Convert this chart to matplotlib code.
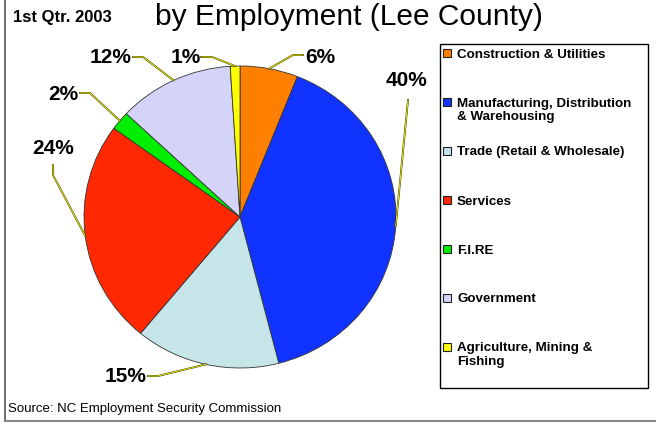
import numpy as np
import matplotlib.pyplot as plt
import matplotlib.patheffects as pe
from matplotlib.patches import Rectangle

plt.rcParams['font.family'] = ['Liberation Sans', 'DejaVu Sans']

categories = ['Construction & Utilities',
              'Manufacturing, Distribution\n& Warehousing',
              'Trade (Retail & Wholesale)',
              'Services',
              'F.I.RE',
              'Government',
              'Agriculture, Mining &\nFishing']
shares = [6, 40, 15, 24, 2, 12, 1]
colors = ['#FF7F00', '#1033FF', '#C5E5E8', '#FF2800', '#00EE00', '#D4D4F8', '#FFFF00']
pct_labels = [f'{v}%' for v in shares]

# layout in pixels: label centre, leader elbow, leader end
label_xy = [(320, 57), (406, 80), (126, 376), (53, 148), (63, 94), (111, 57), (186, 57)]
elbow_xy = [(293, 55), (408, 100), (158, 376), (53, 175), (90, 93), (143, 57), (212, 57)]
end_xy = [(303, 55), (408, 100), (148, 376), (53, 165), (80, 93), (133, 57), (201, 57)]

W, H = 656, 425
cx, cy, rx, ry = 240, 217, 156, 151

fig = plt.figure(figsize=(W / 100, H / 100), dpi=100)

# pie
ax = fig.add_axes([(cx - rx) / W, (H - cy - ry) / H, 2 * rx / W, 2 * ry / H])
wedges, _ = ax.pie(shares, colors=colors, startangle=90, counterclock=False,
                   wedgeprops=dict(edgecolor='#333333', linewidth=0.6))
ax.set_aspect('auto')
ax.set_xlim(-1, 1)
ax.set_ylim(-1, 1)
ax.axis('off')

# overlay in pixel coords
ov = fig.add_axes([0, 0, 1, 1])
ov.set_xlim(0, W)
ov.set_ylim(H, 0)
ov.axis('off')
ov.patch.set_alpha(0)

lead_fx = [pe.Stroke(linewidth=1.3, foreground='#333300'), pe.Normal()]
for w, lab, (lx, ly), (ex, ey), (tx, ty) in zip(wedges, pct_labels, label_xy, elbow_xy, end_xy):
    a = np.deg2rad((w.theta1 + w.theta2) / 2)
    px, py = cx + rx * np.cos(a), cy - ry * np.sin(a)
    ov.plot([px, ex, tx], [py, ey, ty], color='#FFFF00', lw=0.6, path_effects=lead_fx,
            solid_joinstyle='miter')
    ov.text(lx, ly, lab, ha='center', va='center', fontsize=15, fontweight='bold')

# legend
ov.add_patch(Rectangle((440, 44), 208, 344, facecolor='white', edgecolor='black', lw=1))
for i, (cat, col) in enumerate(zip(categories, colors)):
    y = 53 + 49 * i
    ov.add_patch(Rectangle((443, y - 4), 8, 8, facecolor=col, edgecolor='#222222', lw=0.8))
    ov.text(457, y - 4.5, cat, ha='left', va='top', fontsize=9.6, fontweight='bold',
            linespacing=1.15)

# titles and source
ov.text(155, 25, 'by Employment (Lee County)', ha='left', va='baseline', fontsize=21.5)
ov.text(13, 22, '1st Qtr. 2003', ha='left', va='baseline', fontsize=12, fontweight='bold')
ov.text(8, 409, 'Source: NC Employment Security Commission', ha='left', va='center',
        fontsize=9.5)

# outer frame (left and bottom edges only)
ov.plot([5, 5], [0, 421], color='#555555', lw=1.2)
ov.plot([5, W], [421, 421], color='#888888', lw=1.5)

fig.savefig('out.png', dpi=100)
